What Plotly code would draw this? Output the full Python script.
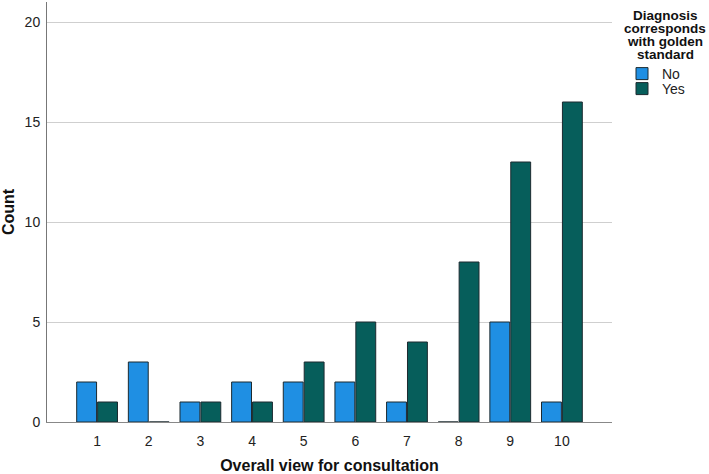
import plotly.graph_objects as go

categories = [1, 2, 3, 4, 5, 6, 7, 8, 9, 10]
no_counts = [2, 3, 1, 2, 2, 2, 1, 0, 5, 1]
yes_counts = [1, 0, 1, 1, 3, 5, 4, 8, 13, 16]
y_ticks = [0, 5, 10, 15, 20]
legend_title_lines = ["Diagnosis", "corresponds", "with golden", "standard"]

FONT = "Liberation Sans, Arial, sans-serif"
W, H = 709, 474
ML, MR, MT, MB = 47, 97, 2, 52
PW, PH = W - ML - MR, H - MT - MB


def px_x(x):
    return (x - ML) / PW


def px_y(y):
    return 1 - (y - MT) / PH


fig = go.Figure()
fig.add_trace(go.Bar(x=categories, y=no_counts, name="No", legend="legend",
                     marker=dict(color="#1F8FE3", line=dict(color="#1c2a30", width=1))))
fig.add_trace(go.Bar(x=categories, y=yes_counts, name="Yes", legend="legend2",
                     marker=dict(color="#065E5B", line=dict(color="#1c2a30", width=1))))

leg_common = dict(xanchor="left", yanchor="middle", font=dict(size=14, family=FONT, color="#222"),
                  bgcolor="rgba(0,0,0,0)", itemwidth=30)

fig.update_layout(
    width=W, height=H,
    margin=dict(l=ML, r=MR, t=MT, b=MB, autoexpand=False),
    paper_bgcolor="white", plot_bgcolor="white",
    barmode="group", bargap=0.19, bargroupgap=0.05,
    font=dict(family=FONT, size=14, color="#222"),
    showlegend=True,
    legend=dict(x=px_x(622), y=px_y(74), **leg_common),
    legend2=dict(x=px_x(622), y=px_y(89), **leg_common),
    xaxis=dict(range=[0.03, 10.97], tickmode="array", tickvals=categories,
               ticktext=[str(c) for c in categories], showgrid=False, zeroline=False,
               showline=True, linecolor="#888", linewidth=1, ticks="", ticklabelstandoff=6,
               tickfont=dict(size=14, family=FONT, color="#222"),
               title=dict(text="<b>Overall view for consultation</b>", standoff=14,
                          font=dict(size=16, family=FONT, color="#111")),
               automargin=False),
    yaxis=dict(range=[0, 21], tickmode="array", tickvals=y_ticks,
               ticktext=[str(t) for t in y_ticks], showgrid=True, gridcolor="#CFCFCF",
               gridwidth=1, zeroline=False, showline=True, linecolor="#777", linewidth=1,
               ticks="", ticklabelstandoff=3,
               tickfont=dict(size=14, family=FONT, color="#222"),
               title=dict(text="<b>Count</b>", standoff=10,
                          font=dict(size=16, family=FONT, color="#111")),
               automargin=False),
)

# white patch where the legend title overlaps the top gridline
fig.add_shape(type="rect", xref="paper", yref="paper",
              x0=px_x(545), x1=1.02, y0=0.9, y1=1.0,
              fillcolor="white", line=dict(width=0), layer="between")

# legend title lines
for i, line in enumerate(legend_title_lines):
    fig.add_annotation(text="<b>" + line + "</b>", xref="paper", yref="paper",
                       x=px_x(665), y=px_y(15 + 13.3 * i),
                       xanchor="center", yanchor="middle", showarrow=False,
                       font=dict(size=13.5, family=FONT, color="#111"))

fig.write_html("out.html", config={"displayModeBar": False},
               post_script="document.body.style.margin='0';")
